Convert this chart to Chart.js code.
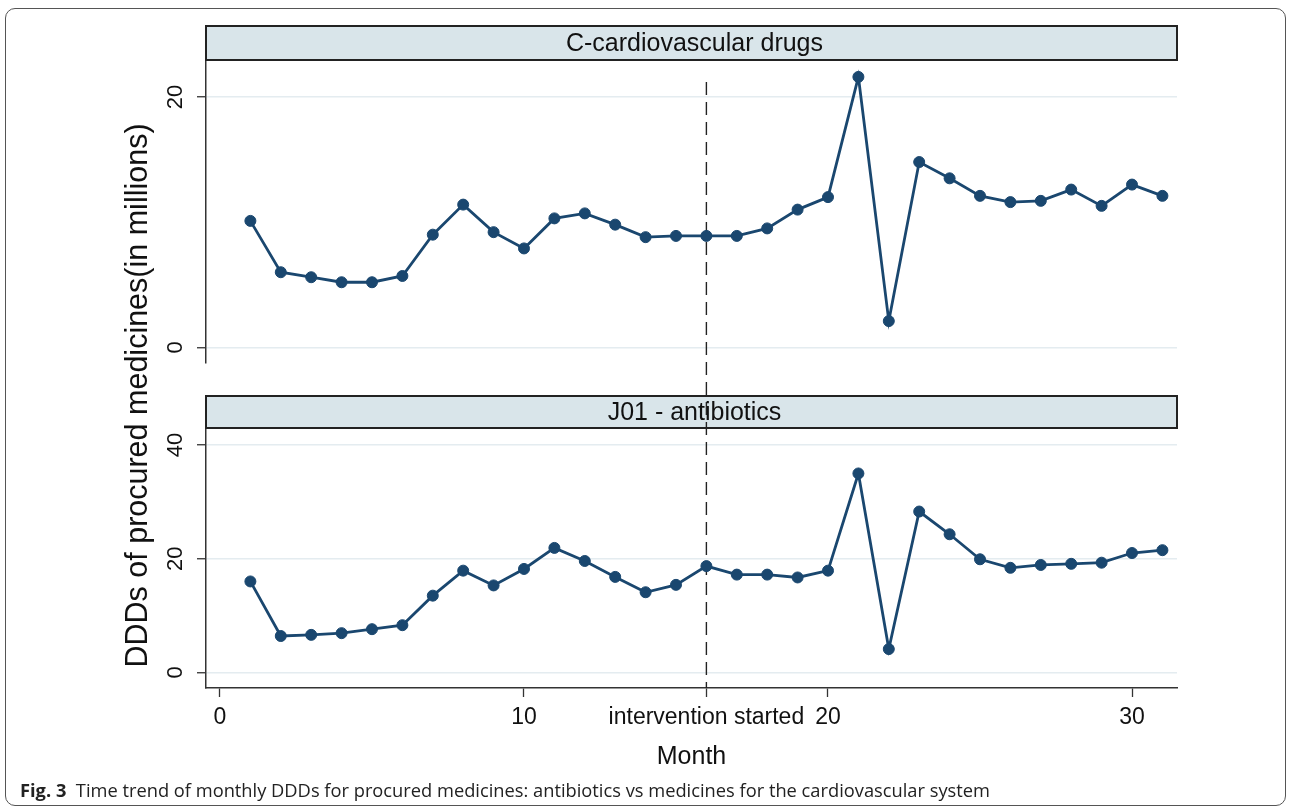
<!DOCTYPE html>
<html>
<head>
<meta charset="utf-8">
<script src="https://cdn.jsdelivr.net/npm/chart.js@4.4.1/dist/chart.umd.min.js"></script>
<style>
  html, body { margin: 0; padding: 0; background: #fff; width: 1290px; height: 810px; overflow: hidden; }
  #frame { position: absolute; left: 5px; top: 8px; width: 1281px; height: 798px; border: 1.5px solid #555; border-radius: 10px; box-sizing: border-box; }
  #wrap { position: absolute; left: 0; top: 0; width: 1290px; height: 780px; }
  #caption { position: absolute; left: 20px; top: 778px; font-family: "Open Sans", "Noto Sans", sans-serif; font-size: 18px; color: #222; white-space: nowrap; transform-origin: left top; }
</style>
</head>
<body>
<div id="frame"></div>
<div id="wrap"><canvas id="chart"></canvas></div>
<div id="caption"><b>Fig. 3</b>&nbsp; Time trend of monthly DDDs for procured medicines: antibiotics vs medicines for the cardiovascular system</div>
<script>
const months = [1, 2, 3, 4, 5, 6, 7, 8, 9, 10, 11, 12, 13, 14, 15, 16, 17, 18, 19, 20, 21, 22, 23, 24, 25, 26, 27, 28, 29, 30, 31];
const cardiovascular = [10.1, 6.0, 5.6, 5.2, 5.2, 5.7, 9.0, 11.4, 9.2, 7.9, 10.3, 10.7, 9.8, 8.8, 8.9,
  8.9, 8.9, 9.5, 11.0, 12.0, 21.6, 2.1, 14.8, 13.5, 12.1, 11.6, 11.7, 12.6, 11.3, 13.0, 12.1];
const antibiotics = [16.0, 6.4, 6.6, 6.9, 7.6, 8.3, 13.5, 17.9, 15.3, 18.2, 21.9, 19.6, 16.8, 14.1, 15.4,
  18.7, 17.2, 17.2, 16.7, 17.9, 35.0, 4.1, 28.3, 24.3, 19.9, 18.4, 18.9, 19.1, 19.3, 21.0, 21.5];
const stripTitles = ["C-cardiovascular drugs", "J01 - antibiotics"];
const xTickValues = [0, 10, 16, 20, 30];
const xTickLabels = ["0", "10", "intervention started", "20", "30"];
const topTicks = [0, 20];
const bottomTicks = [0, 20, 40];
const interventionMonth = 16;

const FONT = "'Liberation Sans', Arial, sans-serif";
const NAVY = "#1a476f";
const AXIS = "#333";

const yPanel = (min, max, ticks, weight) => ({
  type: "linear",
  position: "left",
  stack: "panels",
  stackWeight: weight,
  min: min,
  max: max,
  afterBuildTicks: (s) => { s.ticks = ticks.map((v) => ({ value: v })); },
  afterFit: (s) => { s.width = 86; },
  ticks: { minRotation: 90, maxRotation: 90, crossAlign: "center", padding: 9, color: "#111", font: { family: FONT, size: 22 } },
  grid: { color: "#e4ecf0", lineWidth: 1.5, tickLength: 9, tickColor: AXIS, tickWidth: 1.3 },
  border: { color: AXIS, width: 1.5 }
});

const panelDecor = {
  id: "panelDecor",
  beforeDatasetsDraw(chart) {
    const { ctx, scales } = chart;
    const L = scales.x.left, R = scales.x.right;
    const strip = (top, bottom, text) => {
      ctx.save();
      ctx.fillStyle = "#d9e5ea";
      ctx.fillRect(L, top, R - L, bottom - top);
      ctx.strokeStyle = "#222";
      ctx.lineWidth = 2;
      ctx.strokeRect(L, top, R - L, bottom - top);
      ctx.fillStyle = "#111";
      ctx.font = "25px " + FONT;
      ctx.textAlign = "center";
      ctx.textBaseline = "middle";
      ctx.fillText(text, (L + R) / 2 + 3, (top + bottom) / 2 + 1);
      ctx.restore();
    };
    strip(scales.yTop.top - 34, scales.yTop.top, stripTitles[0]);
    strip(scales.yBottom.top - 32, scales.yBottom.top, stripTitles[1]);

    const xp = scales.x.getPixelForValue(interventionMonth);
    ctx.save();
    ctx.strokeStyle = "#222";
    ctx.lineWidth = 1.4;
    ctx.setLineDash([13, 7]);
    ctx.beginPath();
    ctx.moveTo(xp, scales.yTop.top + 22);
    ctx.lineTo(xp, scales.x.top);
    ctx.stroke();
    ctx.restore();
  }
};

const series = (name, values, axis) => ({
  label: name,
  data: months.map((m, i) => ({ x: m, y: values[i] })),
  yAxisID: axis,
  borderColor: NAVY,
  backgroundColor: NAVY,
  borderWidth: 2.8,
  pointRadius: 5.5,
  pointBorderWidth: 1,
  pointBackgroundColor: NAVY,
  pointBorderColor: NAVY,
  tension: 0
});

new Chart(document.getElementById("chart"), {
  type: "line",
  data: {
    datasets: [
      series(stripTitles[0], cardiovascular, "yTop"),
      series(stripTitles[1], antibiotics, "yBottom")
    ]
  },
  options: {
    responsive: true,
    maintainAspectRatio: false,
    animation: false,
    layout: { padding: { left: 120, right: 113, top: 60, bottom: 0 } },
    plugins: { legend: { display: false }, tooltip: { enabled: false } },
    scales: {
      x: {
        type: "linear",
        position: "bottom",
        min: -0.46,
        max: 31.48,
        afterBuildTicks: (s) => { s.ticks = xTickValues.map((v) => ({ value: v })); },
        afterFit: (s) => { s.height = 92; },
        ticks: { autoSkip: false, maxRotation: 0, padding: 7, color: "#111", font: { family: FONT, size: 23 },
          callback: (v, i) => xTickLabels[i] },
        grid: { drawOnChartArea: false, tickLength: 9, tickColor: AXIS, tickWidth: 1.3 },
        border: { color: AXIS, width: 1.5 },
        title: { display: true, text: "Month", color: "#111", font: { family: FONT, size: 25 }, padding: { top: 0, bottom: 8 } }
      },
      yBottom: yPanel(-2.75, 43.0, bottomTicks, 260),
      yGap: {
        type: "linear",
        position: "left",
        stack: "panels",
        stackWeight: 65,
        afterFit: (s) => { s.width = 86; },
        ticks: { display: false },
        grid: { display: false },
        border: { display: false },
        title: { display: true, text: "DDDs of procured medicines(in millions)", color: "#111", font: { family: FONT, size: 30.5 }, padding: 0 }
      },
      yTop: yPanel(-1.25, 22.95, topTicks, 303)
    }
  },
  plugins: [panelDecor]
});

const cap = document.getElementById("caption");
cap.style.transform = "scaleX(" + (970 / cap.getBoundingClientRect().width) + ")";
</script>
</body>
</html>
